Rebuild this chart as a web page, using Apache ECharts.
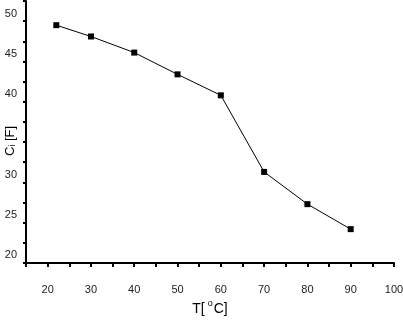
<!DOCTYPE html>
<html><head><meta charset="utf-8">
<script src="https://cdn.jsdelivr.net/npm/echarts@6/dist/echarts.min.js"></script>
<style>html,body{margin:0;padding:0;background:#fff}#c{width:403px;height:322px}</style>
</head><body><div id="c"></div>
<script>
const temps = [22, 30, 40, 50, 60, 70, 80, 90];
const capValues = [47.0, 45.6, 43.6, 40.9, 38.3, 28.8, 24.8, 21.7];
const xTickLabels = [20, 30, 40, 50, 60, 70, 80, 90, 100];
const yTickLabels = [20, 25, 30, 40, 45, 50];

const font = 'Liberation Sans, Arial, sans-serif';
const chart = echarts.init(document.getElementById('c'));
chart.setOption({
  animation: false,
  backgroundColor: '#fff',
  grid: {left: 26, right: 9, top: 1, bottom: 59, containLabel: false, outerBoundsMode: 'none'},
  xAxis: [{
    type: 'value', min: 15, max: 100, interval: 5, position: 'bottom',
    name: '{a|T[}{s|o}{a|C]}', nameLocation: 'middle', nameGap: 36, nameMoveOverlap: false,
    nameTextStyle: {rich: {a: {fontFamily: font, fontSize: 14, color: '#000', verticalAlign: 'bottom'}, s: {fontFamily: font, fontSize: 9, color: '#000', verticalAlign: 'top', padding: [0, 1, 8, 3]}}},
    axisLine: {show: true, onZero: false, lineStyle: {color: '#000', width: 2}},
    axisTick: {show: true, inside: false, length: 4, lineStyle: {color: '#000', width: 2}},
    axisLabel: {show: true, margin: 21, fontFamily: font, fontSize: 11, color: '#222',
      formatter: v => (xTickLabels.includes(v) ? String(v) : '')},
    splitLine: {show: false}
  }],
  yAxis: [{
    type: 'value', min: 17.5, max: 50, interval: 2.5, position: 'left',
    name: 'Cᵢ [F]', nameLocation: 'middle', nameRotate: 90, nameGap: 9, nameMoveOverlap: false,
    nameTextStyle: {fontFamily: font, fontSize: 13, color: '#000', padding: [0, 18, 0, 0]},
    axisLine: {show: true, onZero: false, lineStyle: {color: '#000', width: 2}},
    axisTick: {show: true, inside: false, length: 3, lineStyle: {color: '#000', width: 2}},
    axisLabel: {show: true, margin: 9, fontFamily: font, fontSize: 11, color: '#222', verticalAlign: 'top', padding: [7, 0, 0, 0],
      formatter: v => (yTickLabels.includes(v) ? String(v) : '')},
    splitLine: {show: false}
  }],
  series: [{
    type: 'line', xAxisIndex: 0, yAxisIndex: 0,
    data: temps.map((t, i) => [t, capValues[i]]),
    symbol: 'rect', symbolSize: 6, showSymbol: true,
    itemStyle: {color: '#000'},
    lineStyle: {color: '#000', width: 1}
  }]
});
</script></body></html>
